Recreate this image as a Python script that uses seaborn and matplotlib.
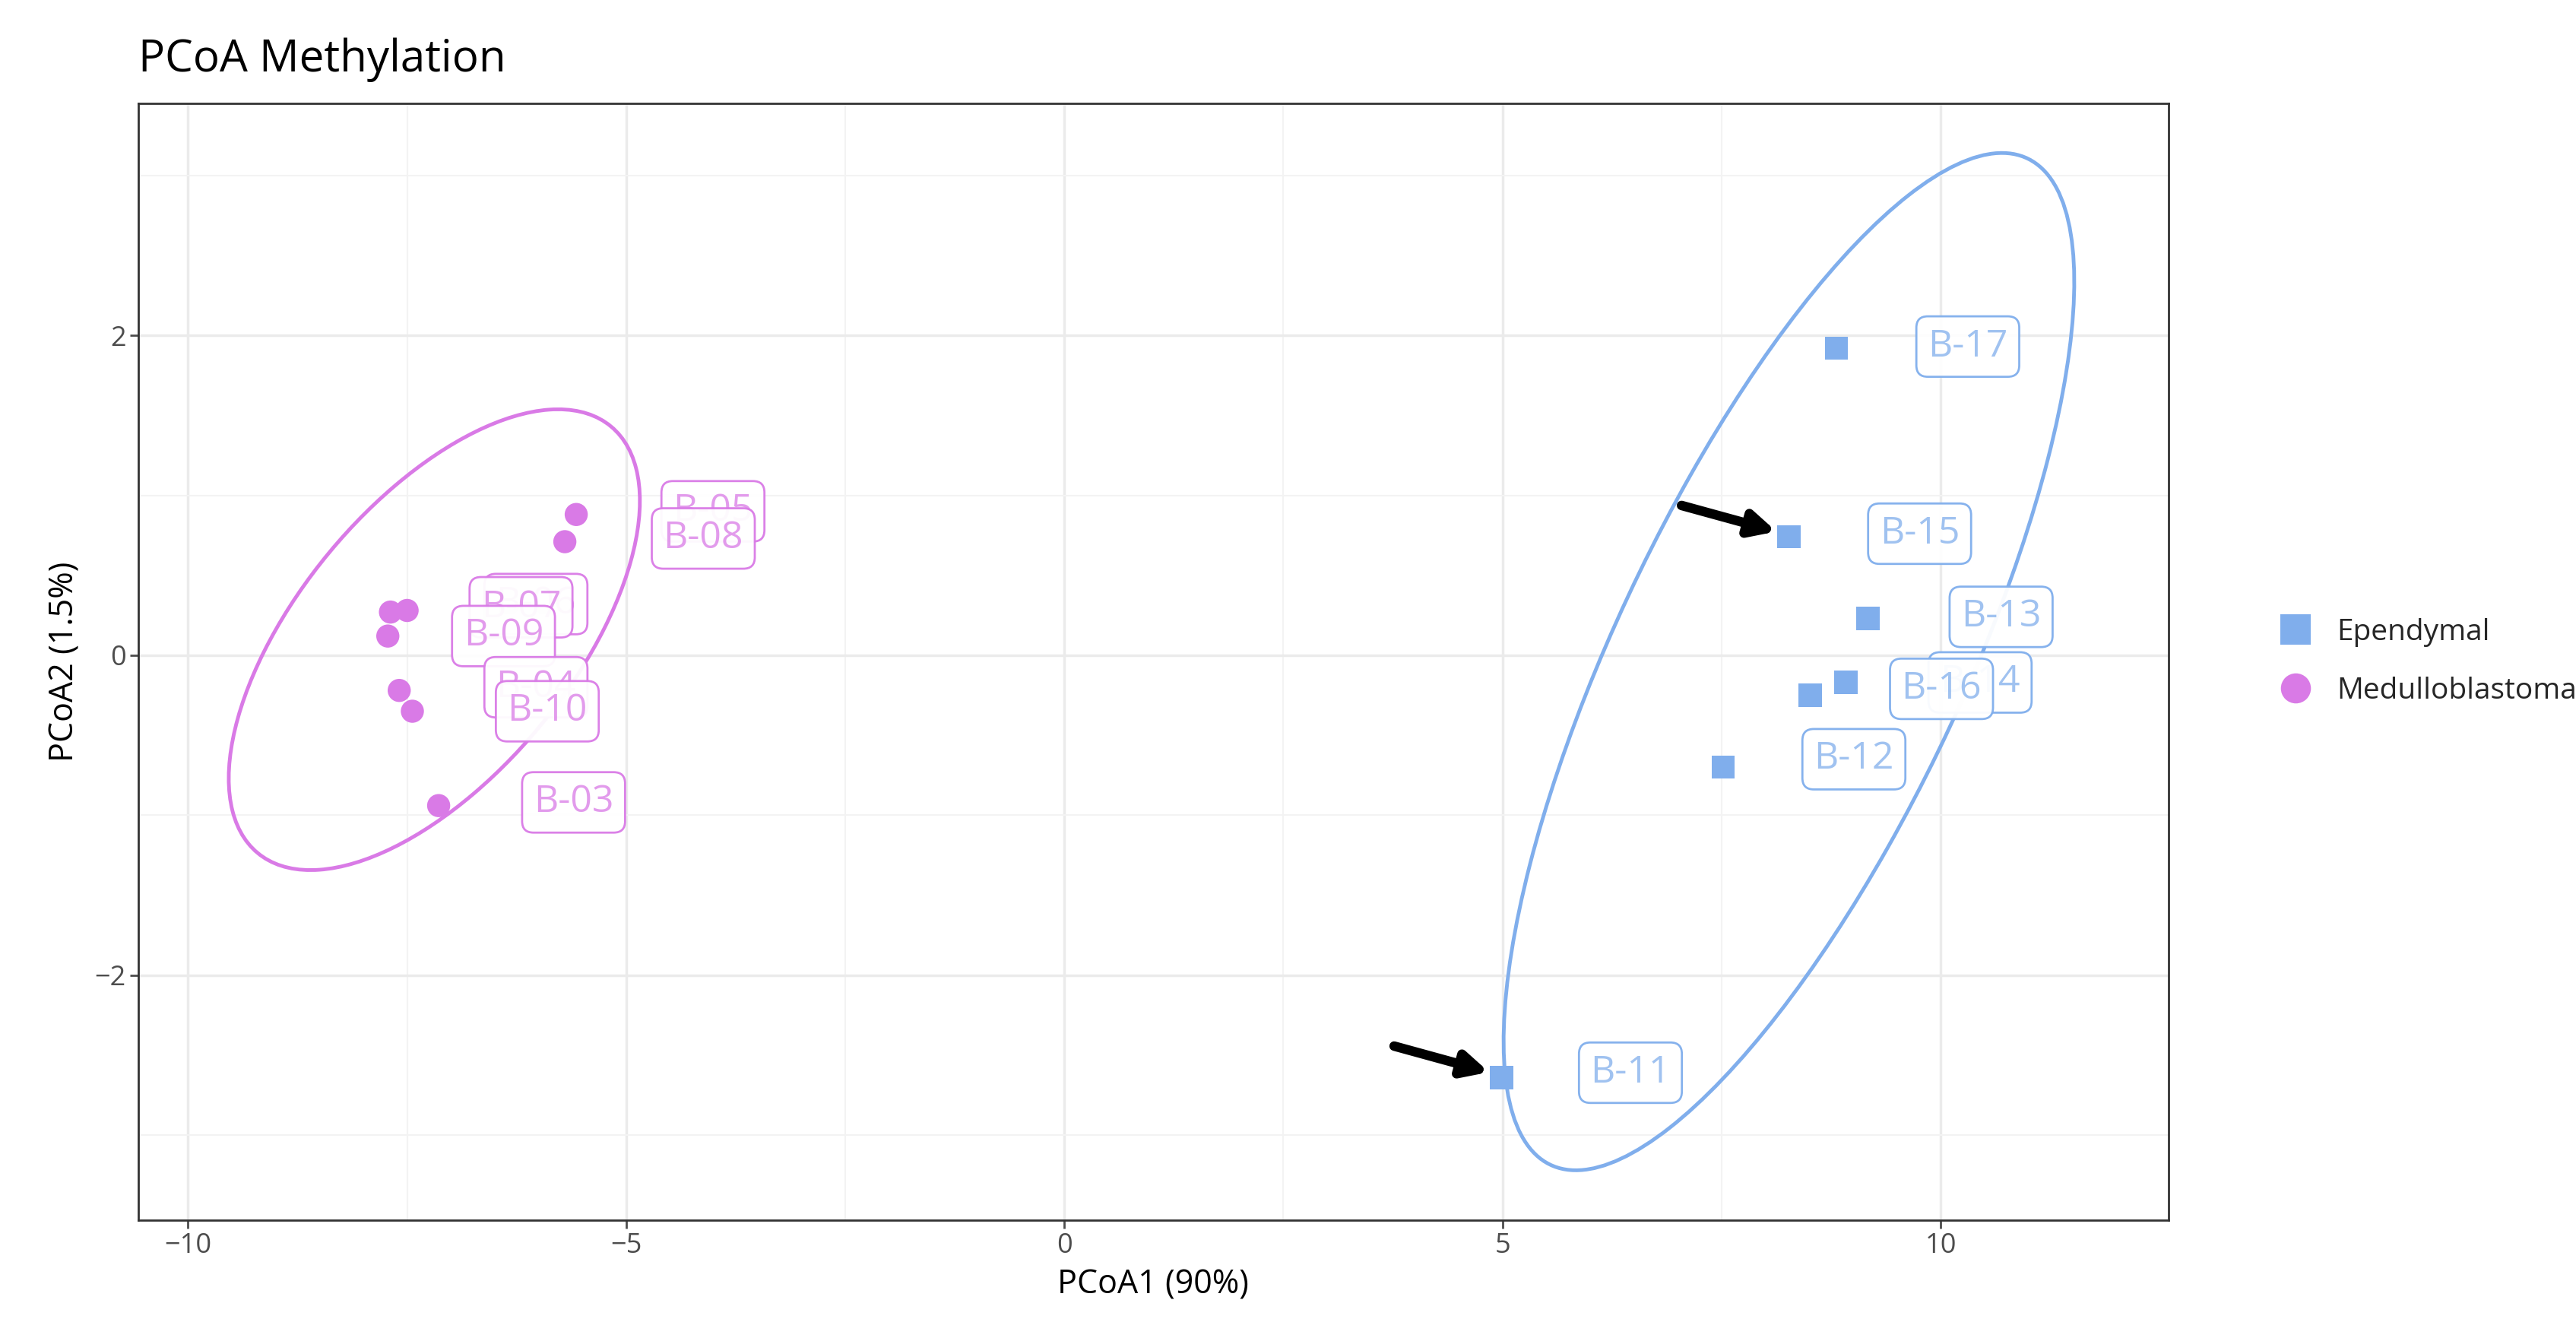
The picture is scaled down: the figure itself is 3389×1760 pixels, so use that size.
import numpy as np
import pandas as pd
import matplotlib
matplotlib.use("Agg")
import matplotlib.pyplot as plt
import seaborn as sns
from matplotlib.patches import Ellipse

sns.set_theme(style="whitegrid")
plt.rcParams['font.family'] = ['Open Sans', 'DejaVu Sans']

groups = ["Medulloblastoma"] * 8 + ["Ependymal"] * 7
samples = ["B-05", "B-08", "B-06", "B-07", "B-09", "B-04", "B-10", "B-03",
           "B-17", "B-15", "B-13", "B-14", "B-16", "B-12", "B-11"]
pcoa1 = [-5.57, -5.70, -7.50, -7.69, -7.72, -7.59, -7.44, -7.14,
         8.81, 8.27, 9.17, 8.92, 8.51, 7.52, 4.99]
pcoa2 = [0.88, 0.71, 0.28, 0.27, 0.12, -0.22, -0.35, -0.94,
         1.92, 0.74, 0.23, -0.17, -0.25, -0.70, -2.64]
label_x = [-4.01, -4.12, -6.03, -6.20, -6.40, -6.03, -5.90, -5.60,
           10.31, 9.76, 10.69, 10.45, 10.01, 9.01, 6.46]
label_y = [0.90, 0.73, 0.32, 0.30, 0.12, -0.20, -0.35, -0.92,
           1.93, 0.76, 0.24, -0.17, -0.21, -0.65, -2.61]
arrow_targets = ["B-15", "B-11"]

df = pd.DataFrame({"group": groups, "sample": samples, "PCoA1": pcoa1, "PCoA2": pcoa2,
                   "lx": label_x, "ly": label_y})
palette = {"Ependymal": "#80AEEC", "Medulloblastoma": "#D97AE6"}
markers = {"Ependymal": "s", "Medulloblastoma": "o"}

fig = plt.figure(figsize=(33.89, 17.60), dpi=100)
ax = fig.add_axes([0.0536, 0.0883, 0.7882, 0.8344])


def cov_trob(X, nu=5, iters=200):
    n, p = X.shape
    w = np.ones(n)
    for _ in range(iters):
        mu = (w[:, None] * X).sum(0) / w.sum()
        D = X - mu
        cov = (w[:, None, None] * np.einsum("ni,nj->nij", D, D)).sum(0) / n
        d2 = np.einsum("ni,ij,nj->n", D, np.linalg.inv(cov), D)
        w_new = (nu + p) / (nu + d2)
        if np.allclose(w_new, w, atol=1e-10):
            break
        w = w_new
    return mu, cov


F95 = {6: 5.143, 7: 4.737}
for g, sub in df.groupby("group"):
    X = sub[["PCoA1", "PCoA2"]].to_numpy()
    n = len(X)
    mu, cov = cov_trob(X)
    vals, vecs = np.linalg.eigh(cov)
    scale = np.sqrt(2 * F95[n - 1])
    ang = np.degrees(np.arctan2(vecs[1, 1], vecs[0, 1]))
    e = Ellipse(mu, 2 * scale * np.sqrt(vals[1]), 2 * scale * np.sqrt(vals[0]), angle=ang,
                fill=False, edgecolor=palette[g], lw=3.5, zorder=2)
    ax.add_patch(e)

sns.scatterplot(data=df, x="PCoA1", y="PCoA2", hue="group", style="group",
                palette=palette, markers=markers, s=480, linewidth=0,
                hue_order=["Ependymal", "Medulloblastoma"],
                style_order=["Ependymal", "Medulloblastoma"], ax=ax, zorder=3)

for i, r in df.iterrows():
    c = palette[r["group"]]
    ax.text(r["lx"], r["ly"], r["sample"], fontsize=36, color=c, alpha=0.75,
            ha="center", va="center", zorder=4 + i,
            bbox=dict(boxstyle="round,pad=0.3", fc="white", ec=c, lw=2, alpha=0.95))

for t in arrow_targets:
    r = df[df["sample"] == t].iloc[0]
    ax.annotate("", xy=(r["PCoA1"] - 0.12, r["PCoA2"] + 0.03),
                xytext=(r["PCoA1"] - 1.25, r["PCoA2"] + 0.2),
                arrowprops=dict(arrowstyle="-|>,head_length=1.6,head_width=0.8", color="black",
                                lw=9), zorder=30)

ax.set_xlim(-10.57, 12.6)
ax.set_ylim(-3.53, 3.45)
ax.set_xticks([-10, -5, 0, 5, 10])
ax.set_yticks([-2, 0, 2])
ax.set_xticks([-7.5, -2.5, 2.5, 7.5], minor=True)
ax.set_yticks([-3, -1, 1, 3], minor=True)
ax.grid(which="major", color="#EBEBEB", lw=2.5)
ax.grid(which="minor", color="#F3F3F3", lw=1.5)
for s in ax.spines.values():
    s.set_edgecolor("#333333"); s.set_linewidth(2)
ax.tick_params(axis="both", which="major", labelsize=26, colors="#4D4D4D", length=8, width=2,
               direction="out", bottom=True, left=True)
ax.tick_params(which="minor", length=0)
ax.set_xlabel("PCoA1 (90%)", fontsize=31, color="black", labelpad=8)
ax.set_ylabel("PCoA2 (1.5%)", fontsize=31, color="black", labelpad=12)
ax.set_title("PCoA Methylation", fontsize=42, loc="left", pad=30, color="black")

h, l = ax.get_legend_handles_labels()
leg = ax.legend(h, l, loc="center left", bbox_to_anchor=(1.035, 0.5), frameon=False,
                fontsize=28, markerscale=1.3, handletextpad=0.4, labelspacing=1.0)
ax.set_facecolor("white")
fig.savefig("out.png", dpi=100)
